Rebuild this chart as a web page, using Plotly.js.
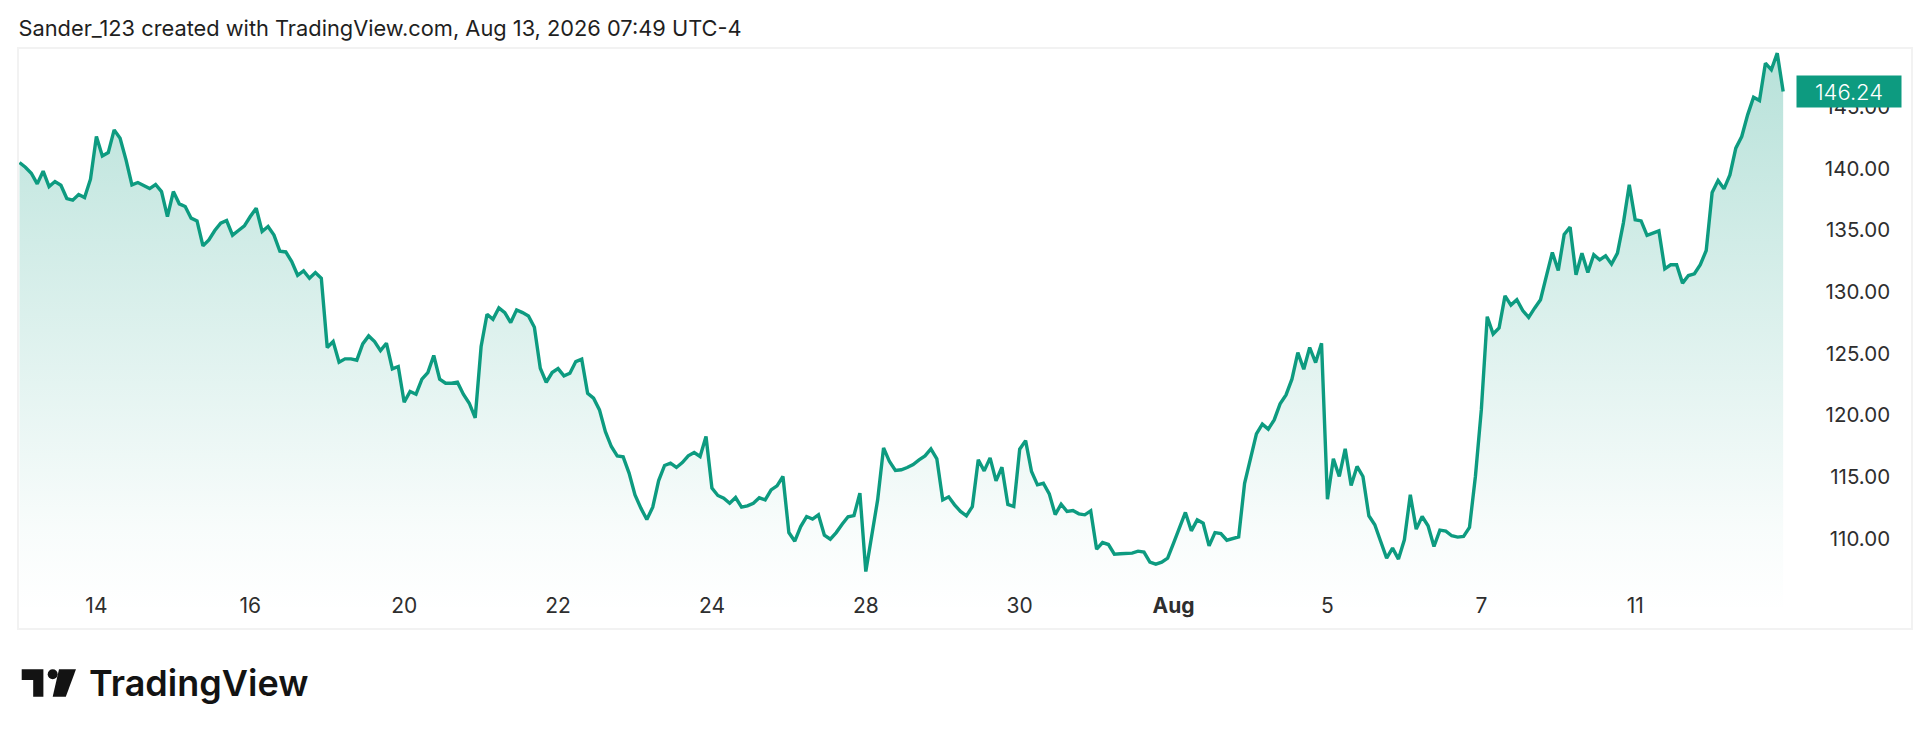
<!DOCTYPE html>
<html>
<head>
<meta charset="utf-8">
<script src="https://cdn.plot.ly/plotly-3.0.1.min.js"></script>
<style>
  html, body { margin: 0; padding: 0; background: #ffffff; }
</style>
</head>
<body>
<div id="chart"></div>
<script>
// Closing prices, one per bar
const prices = [
  140.48,140.10,139.61,138.75,139.78,138.53,138.94,138.64,137.56,137.43,
  137.89,137.64,139.13,142.59,141.02,141.29,143.13,142.45,140.70,138.67,
  138.86,138.64,138.37,138.70,138.13,136.10,138.13,137.13,136.91,135.97,
  135.75,133.72,134.21,134.97,135.56,135.78,134.59,134.97,135.34,136.10,
  136.78,134.89,135.29,134.60,133.29,133.23,132.45,131.34,131.69,131.10,
  131.56,131.10,125.48,125.96,124.29,124.56,124.56,124.45,125.77,126.42,
  125.96,125.23,125.83,123.75,123.94,121.04,121.91,121.69,122.91,123.45,
  124.83,122.91,122.58,122.58,122.67,121.69,120.96,119.77,125.56,128.18,
  127.77,128.69,128.31,127.50,128.53,128.31,128.04,127.12,123.80,122.66,
  123.45,123.77,123.18,123.39,124.34,124.53,121.77,121.37,120.42,118.66,
  117.45,116.69,116.61,115.29,113.53,112.45,111.53,112.53,114.69,115.91,
  116.10,115.75,116.15,116.69,116.96,116.64,118.26,114.07,113.48,113.26,
  112.85,113.31,112.53,112.64,112.85,113.29,113.12,113.93,114.26,115.02,
  110.47,109.77,110.96,111.77,111.56,111.91,110.26,109.93,110.47,111.15,
  111.75,111.85,113.66,107.31,110.29,113.12,117.34,116.23,115.50,115.56,
  115.75,115.99,116.37,116.69,117.26,116.45,113.12,113.37,112.72,112.18,
  111.83,112.58,116.37,115.47,116.53,114.66,115.77,112.75,112.58,117.23,
  117.93,115.42,114.34,114.47,113.61,111.93,112.77,112.18,112.26,111.99,
  111.91,112.23,109.12,109.66,109.50,108.72,108.75,108.80,108.80,108.96,
  108.88,108.07,107.91,108.07,108.39,109.61,110.83,112.10,110.61,111.50,
  111.23,109.39,110.47,110.39,109.85,109.99,110.12,114.47,116.50,118.47,
  119.26,118.86,119.61,120.91,121.64,122.91,125.07,123.72,125.48,124.26,
  125.83,113.18,116.45,115.02,117.26,114.29,115.83,115.02,111.83,111.10,
  109.75,108.40,109.21,108.32,109.88,113.53,110.75,111.77,111.02,109.34,
  110.67,110.59,110.21,110.10,110.15,110.88,115.02,120.42,127.98,126.57,
  127.06,129.67,128.92,129.35,128.48,127.92,128.67,129.35,131.29,133.19,
  131.73,134.65,135.24,131.38,133.13,131.57,133.00,132.59,132.92,132.24,
  133.13,135.57,138.67,135.84,135.75,134.57,134.75,134.94,131.86,132.19,
  132.19,130.70,131.32,131.46,132.19,133.35,138.05,139.02,138.35,139.48,
  141.65,142.59,144.35,145.78,145.51,148.54,148.00,149.35,146.24
];
const bars = prices.map((p, i) => i);

const xTickBars = [13, 39, 65, 91, 117, 143, 169, 195, 221, 247, 273];
const xTickLabels = ["14", "16", "20", "22", "24", "28", "30", "<b>Aug</b>", "5", "7", "11"];
const yTicks = [110, 115, 120, 125, 130, 135, 140, 145];

const lastPrice = prices[prices.length - 1];
const green = "#0d9b80";
const headerText = "Sander_123 created with TradingView.com, Aug 13, 2026 07:49 UTC-4";

// the plot area in page pixels, for the logo
const W = 1930, H = 738;
const plotL = 18.5, plotR = 1911, plotT = 49, plotB = 628;
function px(x) { return ((x - plotL) / (plotR - plotL)).toFixed(5); }
function py(y) { return ((plotB - y) / (plotB - plotT)).toFixed(5); }
function path(points) {
    return "M" + points.map(p => px(p[0]) + "," + py(p[1])).join("L") + "Z";
}

var trace = {
    x: bars,
    y: prices,
    type: "scatter",
    mode: "lines",
    line: { color: green, width: 3.4, shape: "linear" },
    fill: "tozeroy",
    fillgradient: {
        type: "vertical",
        start: 104,
        stop: 150,
        colorscale: [
            [0, "rgba(13,155,128,0)"],
            [0.15, "rgba(13,155,128,0.03)"],
            [1, "rgba(13,155,128,0.30)"]
        ]
    },
    hoverinfo: "skip"
};

var layout = {
    width: W,
    height: H,
    margin: { l: plotL, r: W - plotR, t: plotT, b: H - plotB, pad: 0 },
    paper_bgcolor: "#ffffff",
    plot_bgcolor: "#ffffff",
    showlegend: false,
    font: { family: "Inter, Roboto, sans-serif", size: 20, color: "#2e2e2e" },
    title: {
        text: headerText,
        x: plotL / W,
        xanchor: "left",
        xref: "container",
        y: 1 - 28 / H,
        yanchor: "middle",
        font: { family: "Inter, Roboto, sans-serif", size: 21.8, color: "#1f1f1f" }
    },
    xaxis: {
        range: [-0.08, 319.6],
        tickmode: "array",
        tickvals: xTickBars,
        ticktext: xTickLabels,
        ticks: "",
        showgrid: false,
        zeroline: false,
        showline: true,
        mirror: true,
        linecolor: "#f2f2f2",
        linewidth: 2,
        ticklabelposition: "inside",
        ticklabelstandoff: 12,
        tickfont: { size: 21, color: "#2e2e2e" }
    },
    yaxis: {
        range: [102.73, 149.69],
        side: "right",
        tickmode: "array",
        tickvals: yTicks,
        ticktext: yTicks.map(v => v.toFixed(2)),
        ticks: "",
        showgrid: false,
        zeroline: false,
        showline: true,
        mirror: true,
        linecolor: "#f2f2f2",
        linewidth: 2,
        ticklabelposition: "inside",
        ticklabelstandoff: 22,
        tickfont: { size: 20.5, color: "#2e2e2e" }
    },
    annotations: [
        {
            // last price badge
            xref: "x", yref: "y",
            x: 309.2, y: lastPrice,
            text: lastPrice.toFixed(2),
            showarrow: false,
            width: 102, height: 29,
            align: "center",
            bgcolor: green,
            font: { size: 22, weight: 300, color: "#ffffff" }
        },
        {
            xref: "paper", yref: "paper",
            x: +px(87), y: +py(683),
            xanchor: "left", yanchor: "middle",
            text: "TradingView",
            showarrow: false,
            font: { family: "Inter, sans-serif", size: 36, weight: 600, color: "#131313" }
        }
    ],
    shapes: [
        // TradingView mark
        {
            type: "path", xref: "paper", yref: "paper", layer: "above",
            path: path([[21.2,669.3],[42.9,669.3],[42.9,696.7],[32.7,696.7],[32.7,680],[21.2,680]]),
            fillcolor: "#131313", line: { width: 0 }
        },
        {
            type: "circle", xref: "paper", yref: "paper", layer: "above",
            x0: +px(47.2), x1: +px(57.2), y0: +py(669.3), y1: +py(679.3),
            fillcolor: "#131313", line: { width: 0 }
        },
        {
            type: "path", xref: "paper", yref: "paper", layer: "above",
            path: path([[58.5,669.3],[75.5,669.3],[65.3,696.7],[52.2,696.7]]),
            fillcolor: "#131313", line: { width: 0 }
        }
    ]
};

Plotly.newPlot("chart", [trace], layout, { displayModeBar: false, responsive: false });
</script>
</body>
</html>
